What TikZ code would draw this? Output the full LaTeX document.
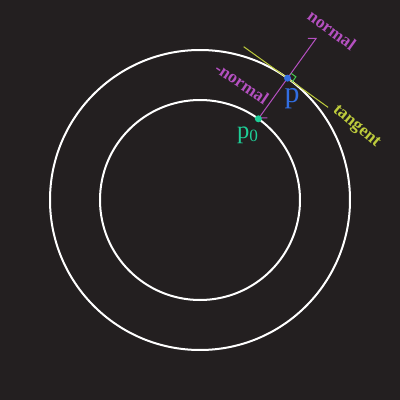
\documentclass[tikz,border=0pt]{standalone}
\usepackage{fontspec}
\setmainfont{Liberation Serif}
\usetikzlibrary{calc,arrows.meta}
\definecolor{bgcol}{RGB}{35,31,32}
\definecolor{normalcol}{RGB}{180,80,192}
\definecolor{tangentcol}{RGB}{190,204,60}
\definecolor{markcol}{RGB}{70,200,80}
\definecolor{pcol}{RGB}{50,110,225}
\definecolor{pzerocol}{RGB}{30,205,150}
\tikzset{
  harpoontip/.style={-{Straight Barb[harpoon,angle'=108,length=2.8pt]}},
  vlabel/.style={font=\bfseries\fontsize{10}{12}\selectfont, inner sep=0pt}
}

\begin{document}
\begin{tikzpicture}[x=0.02cm, y=0.02cm]
			%%%%% START %%%%%
			
			\fill[bgcol] (0, 0) rectangle (400, 400);
			
			\coordinate (c) at (200, 200);
			\draw[line width=0.4mm, color=white] (c) circle (150);
			\draw[line width=0.4mm, color=white] (c) circle (100);
			
			\coordinate (p) at ($(c)+(54.3:150)$);
			\coordinate (p0) at ($(c)+(54.3:100)$);
			\coordinate (ntip) at ($(c)+(54.3:200)$);
			\coordinate (tA) at ($(p)+(144.3:54)$);
			\coordinate (tB) at ($(p)+(-35.7:50)$);
			
			\draw[line width=0.2mm, color=tangentcol] (tA) -- (tB);
			\draw[line width=0.2mm, color=normalcol, harpoontip] (p) -- (ntip);
			\draw[line width=0.2mm, color=normalcol, harpoontip] (p) -- (p0);
			\draw[line width=0.2mm, color=markcol] ($(p)+(54.3:6)$) -- ++(-35.7:6) -- ($(p)+(-35.7:6)$);
			
			\fill[pcol] (p) circle (3.5);
			\fill[pzerocol] (p0) circle (3.5);
			
			\node[vlabel, color=normalcol, rotate=-36] (lnormal) at (332, 370) {normal};
			\node[vlabel, color=normalcol, rotate=-34] (lminus) at (242, 317) {-normal};
			\node[vlabel, color=tangentcol, rotate=-40] (ltangent) at (356, 273) {tangent};
			\node[color=pcol, font=\fontsize{17}{19}\selectfont, inner sep=0pt] (lp) at (292, 301) {p};
			\node[color=pzerocol, font=\fontsize{14}{16}\selectfont, inner sep=0pt] (lpzero) at (248, 265) {p\textsubscript{0}};
			
			%%%%% END %%%%%
\end{tikzpicture}
\end{document}
